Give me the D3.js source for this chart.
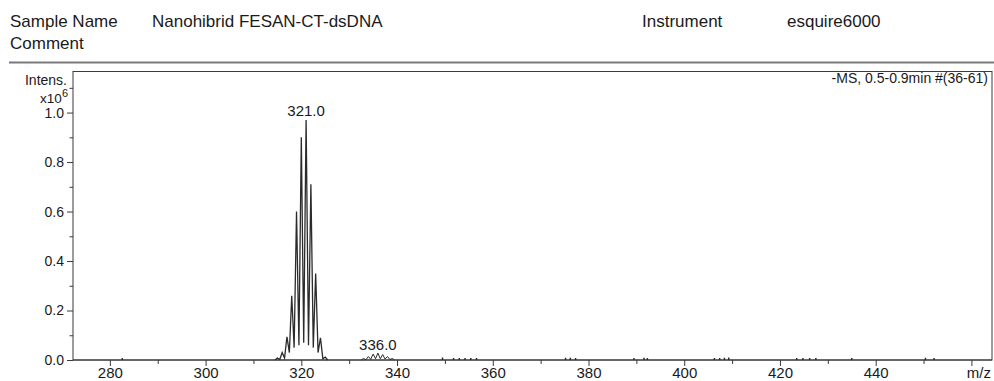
<!DOCTYPE html>
<html>
<head>
<meta charset="utf-8">
<script src="https://cdn.jsdelivr.net/npm/d3@7"></script>
<style>
  html, body { margin: 0; padding: 0; background: #fff; }
  svg { display: block; }
  text { font-family: "Liberation Sans", Arial, sans-serif; fill: #1a1a1a; }
</style>
</head>
<body>
<svg id="chart" width="994" height="381"></svg>
<script>
// ---- Data ----
const mzMain  = [314.5, 315, 315.5, 316, 316.5, 317, 317.5, 318, 318.5, 319, 319.5, 320, 320.5, 321, 321.5, 322, 322.5, 323, 323.5, 324, 324.5, 325, 325.5];
const intMain = [0, 0.008, 0.002, 0.03, 0.008, 0.094, 0.03, 0.26, 0.05, 0.60, 0.06, 0.90, 0.07, 0.97, 0.06, 0.71, 0.05, 0.35, 0.03, 0.09, 0.005, 0.012, 0];

const mzMinor  = [332.5, 333, 333.5, 334, 334.5, 335, 335.5, 336, 336.5, 337, 337.5, 338, 338.5, 339, 339.5];
const intMinor = [0, 0.006, 0.001, 0.014, 0.003, 0.024, 0.005, 0.028, 0.005, 0.022, 0.004, 0.014, 0.002, 0.006, 0];

const mzNoise  = [282.6, 349.5, 351.8, 353.0, 354.2, 355.4, 356.6, 375.2, 376.2, 377.3, 389.5, 391.6, 392.3, 406.3, 407.4, 408.4, 409.3, 423.5, 424.8, 426.2, 427.5, 435.0, 450.4, 452.2];
const intNoise = [0.004, 0.006, 0.004, 0.004, 0.004, 0.004, 0.004, 0.005, 0.005, 0.004, 0.004, 0.005, 0.004, 0.004, 0.004, 0.005, 0.006, 0.004, 0.004, 0.004, 0.004, 0.004, 0.005, 0.004];

const peakLabelMz  = [321.0, 336.0];
const peakLabelInt = [0.97, 0.028];
const peakLabels   = ["321.0", "336.0"];

const xMajorTicks = [280, 300, 320, 340, 360, 380, 400, 420, 440, 460];
const xTickLabels = ["280", "300", "320", "340", "360", "380", "400", "420", "440", ""];
const xMinorTicks = [290, 310, 330, 350, 370, 390, 410, 430, 450];
const yMajorTicks = [0, 0.2, 0.4, 0.6, 0.8, 1.0];
const yTickLabels = ["0.0", "0.2", "0.4", "0.6", "0.8", "1.0"];
const yMinorTicks = [0.1, 0.3, 0.5, 0.7, 0.9, 1.1];

const mzDomain  = [272.3, 464.3];
const intDomain = [0, 1.166];

// ---- Layout ----
const svg = d3.select("#chart");
const L = 73, R = 992, T = 71.5, B = 360;

const x = d3.scaleLinear().domain(mzDomain).range([L, R]);
const y = d3.scaleLinear().domain(intDomain).range([B, T]);

// Header
svg.append("text").attr("x", 10).attr("y", 27).attr("font-size", 17).text("Sample Name");
svg.append("text").attr("x", 152).attr("y", 27).attr("font-size", 17).text("Nanohibrid FESAN-CT-dsDNA");
svg.append("text").attr("x", 642).attr("y", 27).attr("font-size", 17).text("Instrument");
svg.append("text").attr("x", 787).attr("y", 27).attr("font-size", 17).text("esquire6000");
svg.append("text").attr("x", 10).attr("y", 48.5).attr("font-size", 17).text("Comment");
svg.append("line").attr("x1", 9).attr("x2", 994).attr("y1", 62.5).attr("y2", 62.5)
  .attr("stroke", "#7a7a7a").attr("stroke-width", 1.8);

// Frame
svg.append("rect").attr("x", L).attr("y", T).attr("width", R - L).attr("height", B - T)
  .attr("fill", "none").attr("stroke", "#3a3a3a").attr("stroke-width", 1);

// Axes
const xAxisMajor = d3.axisBottom(x).tickValues(xMajorTicks).tickSize(6).tickPadding(1)
  .tickFormat((d, i) => xTickLabels[i]);
const gx = svg.append("g").attr("transform", `translate(0,${B})`).call(xAxisMajor);
gx.select(".domain").remove();
gx.selectAll("line").attr("stroke", "#3a3a3a");
gx.selectAll("text").attr("font-size", 15).attr("font-family", "Liberation Sans, Arial, sans-serif").attr("fill", "#1a1a1a");

const gxm = svg.append("g").attr("transform", `translate(0,${B})`)
  .call(d3.axisBottom(x).tickValues(xMinorTicks).tickSize(4).tickFormat(""));
gxm.select(".domain").remove();
gxm.selectAll("line").attr("stroke", "#3a3a3a");

const yAxisMajor = d3.axisLeft(y).tickValues(yMajorTicks).tickSize(6).tickPadding(3)
  .tickFormat((d, i) => yTickLabels[i]);
const gy = svg.append("g").attr("transform", `translate(${L},0)`).call(yAxisMajor);
gy.select(".domain").remove();
gy.selectAll("line").attr("stroke", "#3a3a3a");
gy.selectAll("text").attr("font-size", 14).attr("font-family", "Liberation Sans, Arial, sans-serif").attr("fill", "#1a1a1a");

const gym = svg.append("g").attr("transform", `translate(${L},0)`)
  .call(d3.axisLeft(y).tickValues(yMinorTicks).tickSize(3.5).tickFormat(""));
gym.select(".domain").remove();
gym.selectAll("line").attr("stroke", "#3a3a3a");

// Axis titles
svg.append("text").attr("x", 67).attr("y", 84.5).attr("font-size", 14).attr("text-anchor", "end").text("Intens.");
const xt = svg.append("text").attr("x", 68).attr("y", 103).attr("font-size", 13.5).attr("text-anchor", "end");
xt.append("tspan").text("x10");
xt.append("tspan").attr("font-size", 11).attr("dy", -6).text("6");
svg.append("text").attr("x", 991).attr("y", 378).attr("font-size", 15).attr("text-anchor", "end").text("m/z");
svg.append("text").attr("x", 988).attr("y", 83).attr("font-size", 14).attr("text-anchor", "end").text("-MS, 0.5-0.9min #(36-61)");

// Spectrum
const plot = svg.append("g");
const baseline = [[mzDomain[0], 0], [mzDomain[1], 0]];
plot.append("path").datum(baseline)
  .attr("d", d3.line().x(d => x(d[0])).y(d => y(d[1])))
  .attr("stroke", "#333").attr("fill", "none").attr("stroke-width", 1);

const line = d3.line().x(d => x(d[0])).y(d => y(d[1]));
plot.append("path").datum(mzMain.map((m, i) => [m, intMain[i]]))
  .attr("d", line).attr("fill", "none").attr("stroke", "#2b2b2b").attr("stroke-width", 1.3)
  .attr("stroke-linejoin", "miter");
plot.append("path").datum(mzMinor.map((m, i) => [m, intMinor[i]]))
  .attr("d", line).attr("fill", "none").attr("stroke", "#2b2b2b").attr("stroke-width", 1);
plot.selectAll("line.noise").data(mzNoise.map((m, i) => [m, intNoise[i]])).enter()
  .append("line").attr("class", "noise")
  .attr("x1", d => x(d[0])).attr("x2", d => x(d[0]))
  .attr("y1", y(0)).attr("y2", d => y(d[1]) - 1)
  .attr("stroke", "#2b2b2b").attr("stroke-width", 1.5);

// Peak labels
svg.selectAll("text.peak").data(peakLabelMz.map((m, i) => [m, peakLabelInt[i], peakLabels[i]])).enter()
  .append("text").attr("class", "peak")
  .attr("x", d => x(d[0])).attr("y", d => y(d[1]) - 3.5)
  .attr("text-anchor", "middle").attr("font-size", 15).text(d => d[2]);
</script>
</body>
</html>
